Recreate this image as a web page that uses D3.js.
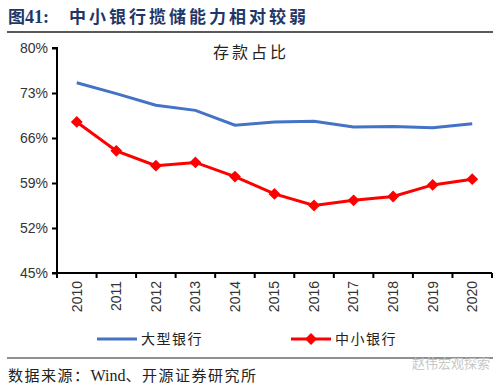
<!DOCTYPE html>
<html>
<head>
<meta charset="utf-8">
<script src="https://cdn.jsdelivr.net/npm/d3@7"></script>
<style>
    body { margin: 0; background: #fff; }
    svg { display: block; }
</style>
</head>
<body>
<svg id="chart" width="500" height="387"></svg>
<script>
// data
let years = ["2010", "2011", "2012", "2013", "2014", "2015", "2016", "2017", "2018", "2019", "2020"];
let bigBanks = [74.6, 72.9, 71.1, 70.3, 68.0, 68.5, 68.6, 67.7, 67.8, 67.6, 68.2];
let smallBanks = [68.5, 64.0, 61.7, 62.2, 60.0, 57.3, 55.5, 56.3, 56.9, 58.7, 59.6];
let yTicks = [45, 52, 59, 66, 73, 80];
let seriesNames = ["大型银行", "中小银行"];

let svg = d3.select("#chart");
let cjk = "'Noto Sans CJK SC', sans-serif";

// Header
let title = svg.append("text")
    .attr("x", 8)
    .attr("y", 23)
    .attr("fill", "#1f3768")
    .attr("font-weight", "bold")
    .attr("font-size", 17)
    .attr("font-family", cjk);
title.append("tspan").text("图");
title.append("tspan").text("41:").attr("font-family", "'Liberation Serif', serif").attr("font-size", 18);
title.append("tspan").text("中小银行揽储能力相对较弱").attr("dx", 20).attr("letter-spacing", 3);

svg.append("line")
    .attr("x1", 7).attr("x2", 493)
    .attr("y1", 32).attr("y2", 32)
    .attr("stroke", "#222").attr("stroke-width", 1.5);

// Plot
let margin = {left: 57, right: 8, top: 48, bottom: 114};
let width = 500 - margin.left - margin.right;
let height = 387 - margin.top - margin.bottom;

let g = svg.append("g")
    .attr("transform", `translate(${margin.left}, ${margin.top})`);

let x = d3.scaleBand().domain(years).range([0, width]);
let y = d3.scaleLinear().domain([45, 80]).range([height, 0]);

let yAxis = d3.axisLeft(y)
    .tickValues(yTicks)
    .tickFormat(d => d + "%")
    .tickSize(5)
    .tickPadding(4);

let xAxis = d3.axisBottom(x)
    .tickSize(0)
    .tickPadding(0);

g.append("g")
    .attr("class", "y-axis")
    .call(yAxis)
    .call(a => a.select(".domain").attr("stroke", "#000").attr("stroke-width", 2).attr("d", `M-5,${height}H0V0H-5`))
    .call(a => a.selectAll(".tick line").attr("stroke", "#000").attr("stroke-width", 2))
    .call(a => a.selectAll("text")
        .attr("fill", "#333")
        .attr("font-size", 14)
        .attr("font-family", "'Liberation Sans', Arial, sans-serif"));

let xg = g.append("g")
    .attr("class", "x-axis")
    .attr("transform", `translate(0, ${height})`)
    .call(xAxis);
xg.select(".domain").attr("stroke", "#000").attr("stroke-width", 2).attr("d", `M0,0H${width}`);
// separator ticks between categories
xg.selectAll(".sep")
    .data(years.concat(["end"]))
    .enter().append("line")
    .attr("class", "sep")
    .attr("x1", (d, i) => i * x.bandwidth())
    .attr("x2", (d, i) => i * x.bandwidth())
    .attr("y1", 0).attr("y2", 5)
    .attr("stroke", "#000").attr("stroke-width", 2);
xg.selectAll(".tick text")
    .attr("transform", "rotate(-90)")
    .attr("text-anchor", "end")
    .attr("x", -8)
    .attr("y", 0)
    .attr("dy", "0.35em")
    .attr("fill", "#333")
    .attr("font-size", 14)
    .attr("font-family", "'Liberation Sans', Arial, sans-serif");

// Chart subtitle
g.append("text")
    .text("存款占比")
    .attr("x", 194)
    .attr("y", 10)
    .attr("text-anchor", "middle")
    .attr("font-size", 16)
    .attr("letter-spacing", 3)
    .attr("fill", "#222")
    .attr("font-family", cjk);

let line = d3.line()
    .x((d, i) => x(years[i]) + x.bandwidth() / 2)
    .y(d => y(d));

g.append("path")
    .datum(bigBanks)
    .attr("fill", "none")
    .attr("stroke", "#4472c4")
    .attr("stroke-width", 3)
    .attr("d", line);

g.append("path")
    .datum(smallBanks)
    .attr("fill", "none")
    .attr("stroke", "#ff0000")
    .attr("stroke-width", 3)
    .attr("d", line);

let diamond = d3.symbol().type(d3.symbolDiamond2).size(90);
g.selectAll(".pt")
    .data(smallBanks)
    .enter().append("path")
    .attr("class", "pt")
    .attr("d", diamond)
    .attr("transform", (d, i) => `translate(${x(years[i]) + x.bandwidth() / 2}, ${y(d)})`)
    .attr("fill", "#ff0000");

// Legend
let legend = svg.append("g").attr("transform", "translate(0, 339)");
let legendItems = [
    {name: seriesNames[0], color: "#4472c4", x: 97, marker: false},
    {name: seriesNames[1], color: "#ff0000", x: 291, marker: true}
];
legendItems.forEach(function (d) {
    legend.append("line")
        .attr("x1", d.x).attr("x2", d.x + 40)
        .attr("y1", 0).attr("y2", 0)
        .attr("stroke", d.color).attr("stroke-width", 3);
    if (d.marker) {
        legend.append("path")
            .attr("d", diamond)
            .attr("transform", `translate(${d.x + 20}, 0)`)
            .attr("fill", d.color);
    }
    legend.append("text")
        .text(d.name)
        .attr("x", d.x + 44)
        .attr("y", 0)
        .attr("dy", "0.35em")
        .attr("font-size", 14)
        .attr("letter-spacing", 1.5)
        .attr("fill", "#222")
        .attr("font-family", cjk);
});

// Footer
svg.append("line")
    .attr("x1", 7).attr("x2", 493)
    .attr("y1", 358).attr("y2", 358)
    .attr("stroke", "#222").attr("stroke-width", 1.2);

let foot = svg.append("text")
    .attr("x", 8)
    .attr("y", 381)
    .attr("font-size", 15)
    .attr("letter-spacing", 1.5)
    .attr("fill", "#222")
    .attr("font-family", cjk);
foot.append("tspan").text("数据来源：");
foot.append("tspan").text("Wind").attr("font-family", "'Liberation Serif', serif").attr("font-size", 16).attr("letter-spacing", 0);
foot.append("tspan").text("、开源证券研究所").attr("letter-spacing", 1.5);

svg.append("text")
    .text("赵伟宏观探索")
    .attr("x", 490)
    .attr("y", 368)
    .attr("text-anchor", "end")
    .attr("font-size", 13)
    .attr("fill", "#c8c8c8")
    .attr("font-family", cjk);
</script>
</body>
</html>
